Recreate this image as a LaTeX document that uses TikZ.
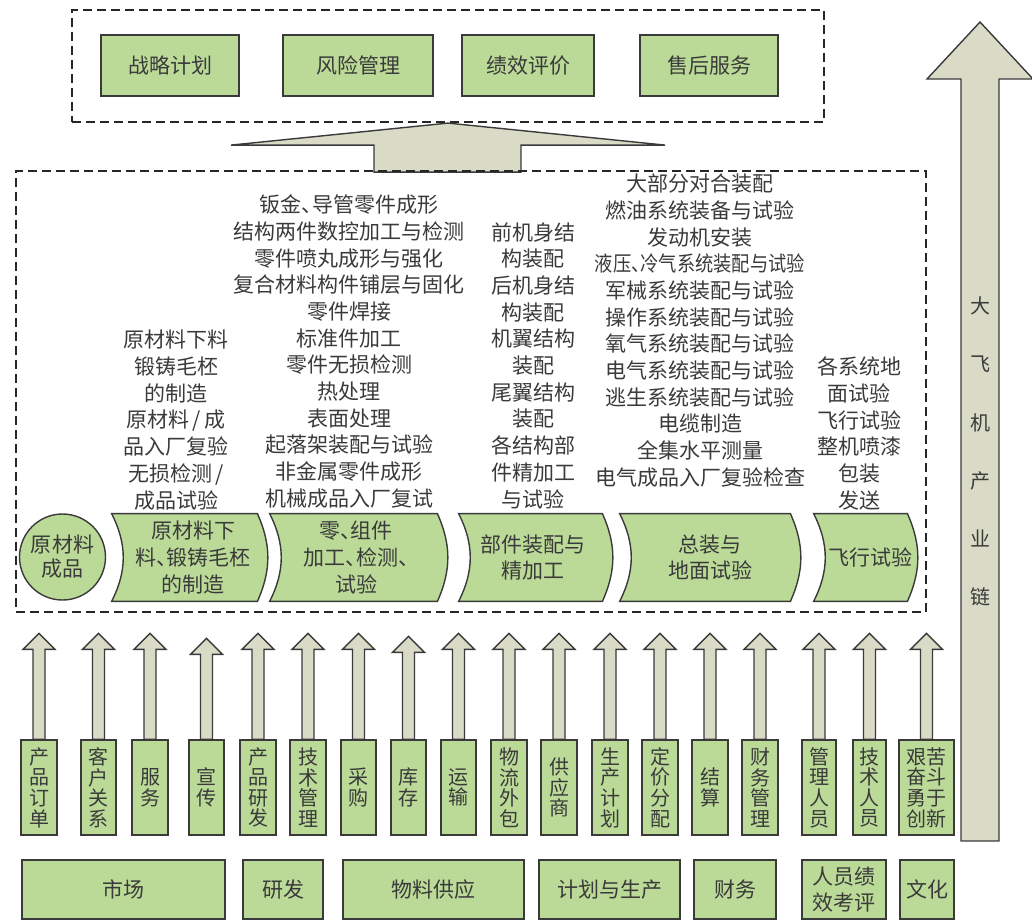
\documentclass[tikz,border=0pt]{standalone}
\usepackage{fontspec}
\usepackage{graphicx}
\setmainfont{Noto Sans CJK SC}
\usetikzlibrary{calc,backgrounds}

\definecolor{leaf}{HTML}{BBDA98}
\definecolor{sand}{HTML}{D9DBC6}
\definecolor{ink}{HTML}{3A3A3A}

% half-width enumeration comma
\newcommand\dun{{\addfontfeature{RawFeature=+halt}、}}

\tikzset{
	box/.style={draw=ink, fill=leaf, line width=0.7pt, inner sep=0pt, text=ink, align=center, font=\fontsize{10.5}{12}\selectfont},
	vbox/.style={box, minimum height=47.5pt, font=\fontsize{10}{10.3}\selectfont},
	gbox/.style={box, minimum height=29.5pt, font=\fontsize{10.5}{13}\selectfont},
	proc/.style={inner sep=0pt, minimum height=43.5pt, text=ink, align=center, font=\fontsize{10.5}{13.3}\selectfont},
	stage/.style={draw=ink, fill=leaf, line width=0.7pt},
	coltext/.style={inner sep=0pt, text=ink, align=center, font=\fontsize{10.5}{13.35}\selectfont},
	dashframe/.style={draw=black!85, line width=1.1pt, dash pattern=on 4.5pt off 2.5pt, inner sep=0pt},
	barrow/.style={draw=ink, fill=sand, line width=0.7pt}
}

\begin{document}
\begin{tikzpicture}[x=0.5pt,y=-0.5pt]
			\useasboundingbox (0,0) rectangle (1032,921);

			% frames
			\node[dashframe, minimum width=376pt, minimum height=56pt] (plan) at (448,66) {};
			\node[dashframe, minimum width=455pt, minimum height=220.5pt] (flow) at (471,391.5) {};

			% top management boxes
			\node[box, minimum width=69pt, minimum height=30.5pt] (m_1) at (170,65.5) {战略计划};
			\node[box, minimum width=75pt, minimum height=30.5pt] (m_2) at (358,65.5) {风险管理};
			\node[box, minimum width=66pt, minimum height=30.5pt] (m_3) at (528,65.5) {绩效评价};
			\node[box, minimum width=69pt, minimum height=30.5pt] (m_4) at (709,65.5) {售后服务};

			% big arrow up to the plan frame
			\begin{scope}[on background layer]
				\draw[barrow] ($(plan.south)+(-74,49)$) -- ++(0,-27) -- ++(-143,0) -- (plan.south)
					-- ++(217,22) -- ++(-144,0) -- ++(0,27) -- cycle;
			\end{scope}

			% chain arrow
			\draw[barrow] (961,841) -- (961,79) -- (927,79) -- (980,22) -- (1033,79) -- (999,79) -- (999,841) -- cycle;
			\node[coltext, font=\fontsize{10}{29.1}\selectfont] (chain) at (980,451.5) {大\\飞\\机\\产\\业\\链};

			% process stages (text set a little right of the shape centre)
			\node[box, circle, minimum size=43pt] (s_0) at (62.5,557) {原材料\\成品};
			\node[proc, minimum width=72.5pt] (s_1) at (193,557.5) {原材料下\\料\dun 锻铸毛柸\\的制造};
			\node[proc, minimum width=83.5pt] (s_2) at (356,557.5) {零\dun 组件\\加工\dun 检测\dun\\试验};
			\node[proc, minimum width=71.5pt] (s_3) at (533,557.5) {部件装配与\\精加工};
			\node[proc, minimum width=85pt] (s_4) at (710,557.5) {总装与\\地面试验};
			\node[proc, minimum width=46.5pt] (s_5) at (870,557.5) {飞行试验};
			\begin{scope}[on background layer]
				\foreach \s/\d in {s_1/4.25pt,s_2/1.25pt,s_3/1.25pt,s_4/2.5pt,s_5/4.75pt}
					\draw[stage] ([xshift=-\d]\s.north west) to[bend left=27] ([xshift=-\d]\s.south west)
						-- ([xshift=-\d]\s.south east) to[bend right=24] ([xshift=-\d]\s.north east) -- cycle;
			\end{scope}

			% work contents of each stage
			\node[coltext] (c_1) at (176,420) {原材料下料\\锻铸毛柸\\的制造\\原材料\,/\,成\\品入厂复验\\无损检测\,/\\成品试验};
			\node[coltext] (c_2) at (349,351.5) {钣金\dun 导管零件成形\\结构两件数控加工与检测\\零件喷丸成形与强化\\复合材料构件铺层与固化\\零件焊接\\标准件加工\\零件无损检测\\热处理\\表面处理\\起落架装配与试验\\非金属零件成形\\机械成品入厂复试};
			\node[coltext] (c_3) at (533,365.5) {前机身结\\构装配\\后机身结\\构装配\\机翼结构\\装配\\尾翼结构\\装配\\各结构部\\件精加工\\与试验};
			\node[coltext] (c_4) at (700,330.5) {大部分对合装配\\燃油系统装备与试验\\发动机安装\\\scalebox{0.87}[1]{液压\dun 冷气系统装配与试验}\\军械系统装配与试验\\操作系统装配与试验\\氧气系统装配与试验\\电气系统装配与试验\\逃生系统装配与试验\\电缆制造\\全集水平测量\\电气成品入厂复验检查};
			\node[coltext] (c_5) at (859,433.5) {各系统地\\面试验\\飞行试验\\整机喷漆\\包装\\发送};

			% supporting factors
			\node[vbox, minimum width=18pt] (f_1) at (39,787.5) {产\\品\\订\\单};
			\node[vbox, minimum width=17.5pt] (f_2) at (98.5,787.5) {客\\户\\关\\系};
			\node[vbox, minimum width=18pt] (f_3) at (150,787.5) {服\\务};
			\node[vbox, minimum width=17.5pt] (f_4) at (206.5,787.5) {宣\\传};
			\node[vbox, minimum width=18pt] (f_5) at (258,787.5) {产\\品\\研\\发};
			\node[vbox, minimum width=18pt] (f_6) at (308,787.5) {技\\术\\管\\理};
			\node[vbox, minimum width=17.5pt] (f_7) at (358.5,787.5) {采\\购};
			\node[vbox, minimum width=17.5pt] (f_8) at (408.5,787.5) {库\\存};
			\node[vbox, minimum width=17.5pt] (f_9) at (458.5,787.5) {运\\输};
			\node[vbox, minimum width=18pt] (f_10) at (509,787.5) {物\\流\\外\\包};
			\node[vbox, minimum width=18pt] (f_11) at (559,787.5) {供\\应\\商};
			\node[vbox, minimum width=18pt] (f_12) at (610,787.5) {生\\产\\计\\划};
			\node[vbox, minimum width=18pt] (f_13) at (660,787.5) {定\\价\\分\\配};
			\node[vbox, minimum width=18pt] (f_14) at (710,787.5) {结\\算};
			\node[vbox, minimum width=18pt] (f_15) at (760,787.5) {财\\务\\管\\理};
			\node[vbox, minimum width=17pt] (f_16) at (819,787.5) {管\\理\\人\\员};
			\node[vbox, minimum width=16.5pt] (f_17) at (869.5,787.5) {技\\术\\人\\员};
			\node[vbox, minimum width=27.5pt] (f_18) at (926.5,787.5) {艰苦\\奋斗\\勇于\\创新};

			\foreach \i/\t in {1/634,2/634,3/634,4/639,5/634,6/634,7/634,8/637,9/634,10/634,11/634,12/634,13/634,14/634,15/634,16/634,17/634,18/634}
				\draw[barrow] ($(f_\i.north)+(-6,0)$) -- ($(f_\i.north)+(-6,{\t+16-740})$) -- ++(-10,0)
					-- ($(f_\i.north)+(0,{\t-740})$) -- ++(16,16) -- ++(-10,0) -- ($(f_\i.north)+(6,0)$) -- cycle;

			% functional groups
			\node[gbox, minimum width=101.5pt] (g_1) at (123.5,889.5) {市场};
			\node[gbox, minimum width=40pt] (g_2) at (283,889.5) {研发};
			\node[gbox, minimum width=90.5pt] (g_3) at (433.5,889.5) {物料供应};
			\node[gbox, minimum width=70.5pt] (g_4) at (609.5,889.5) {计划与生产};
			\node[gbox, minimum width=41pt] (g_5) at (735,889.5) {财务};
			\node[gbox, minimum width=42pt] (g_6) at (844,889.5) {人员绩\\效考评};
			\node[gbox, minimum width=27pt] (g_7) at (927,889.5) {文化};
		\end{tikzpicture}
\end{document}
